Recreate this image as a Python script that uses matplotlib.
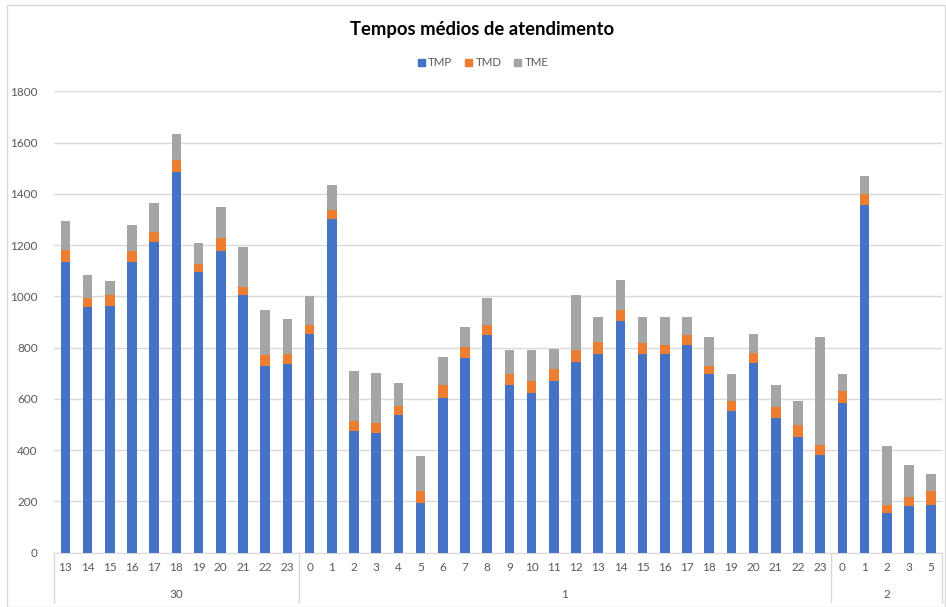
import matplotlib
matplotlib.use("Agg")
import matplotlib.pyplot as plt
import matplotlib.transforms as mtransforms
from matplotlib.patches import Rectangle, Patch
import numpy as np

plt.rcParams['font.family'] = ['Lato', 'DejaVu Sans']

days = ["30", "1", "2"]
hours_30 = [13, 14, 15, 16, 17, 18, 19, 20, 21, 22, 23]
hours_1 = list(range(0, 24))
hours_2 = [0, 1, 2, 3, 5]

tmp = [1135, 958, 964, 1135, 1213, 1484, 1094, 1177, 1005, 730, 735,
       854, 1302, 473, 468, 536, 192, 603, 759, 848, 655, 624, 671, 744, 776,
       905, 777, 777, 812, 699, 552, 740, 526, 453, 380,
       583, 1358, 156, 182, 187]
tmd = [46, 37, 40, 41, 37, 47, 31, 51, 30, 40, 40,
       36, 36, 41, 37, 36, 47, 52, 42, 41, 42, 47, 47, 47, 46,
       42, 40, 35, 36, 30, 41, 41, 41, 45, 40,
       47, 43, 31, 37, 52]
tme = [114, 87, 57, 104, 113, 104, 82, 119, 156, 177, 135,
       113, 98, 193, 197, 89, 139, 110, 78, 104, 94, 120, 78, 213, 99,
       115, 104, 109, 73, 114, 103, 73, 89, 95, 423,
       67, 67, 229, 124, 68]

hour_labels = [str(h) for h in hours_30 + hours_1 + hours_2]
group_sizes = [len(hours_30), len(hours_1), len(hours_2)]

C_TMP = "#4472C4"
C_TMD = "#ED7D31"
C_TME = "#A5A5A5"
GRID = "#D9D9D9"
TXT = "#595959"

W, H = 946, 607
fig = plt.figure(figsize=(W / 100, H / 100), dpi=100)
fig.patch.set_facecolor("white")

left, right, bottom, top = 54.3, 942.3, 552.7, 91.3
ax = fig.add_axes([left / W, 1 - bottom / H, (right - left) / W, (bottom - top) / H])

x = np.arange(len(tmp))
bw = 0.43
tmp_a = np.array(tmp); tmd_a = np.array(tmd); tme_a = np.array(tme)
ax.bar(x, tmp_a, bw, color=C_TMP, zorder=3)
ax.bar(x, tmd_a, bw, bottom=tmp_a, color=C_TMD, zorder=3)
ax.bar(x, tme_a, bw, bottom=tmp_a + tmd_a, color=C_TME, zorder=3)

ax.set_xlim(-0.5, len(tmp) - 0.5)
ax.set_ylim(0, 1800)
ax.set_yticks(range(0, 1801, 200))
ax.yaxis.grid(True, color=GRID, linewidth=1, zorder=0)
ax.set_axisbelow(True)
for s in ["left", "right", "top"]:
    ax.spines[s].set_visible(False)
ax.spines["bottom"].set_color(GRID)
ax.tick_params(axis="y", length=0, pad=12, labelsize=8.5, labelcolor=TXT)
ax.set_xticks(x)
ax.set_xticklabels(hour_labels)
ax.tick_params(axis="x", length=0, pad=7, labelsize=8.5, labelcolor=TXT)

trans = mtransforms.blended_transform_factory(ax.transData, ax.transAxes)
sep_bottom = -(602 - bottom) / (bottom - top)
lab_y = -(594 - bottom) / (bottom - top)
bounds = np.concatenate([[0], np.cumsum(group_sizes)]) - 0.5
for b in bounds:
    ax.plot([b, b], [0, sep_bottom], color=GRID, linewidth=1, transform=trans, clip_on=False)
for i, d in enumerate(days):
    cx = (bounds[i] + bounds[i + 1]) / 2
    ax.text(cx, lab_y, d, transform=trans, ha="center", va="center", fontsize=8.5, color=TXT)

fig.text(482 / W, 1 - 29 / H, "Tempos médios de atendimento", ha="center", va="center",
         fontsize=13.3, fontweight="bold", color="#000000")

handles = [Patch(color=C_TMP, label="TMP"), Patch(color=C_TMD, label="TMD"), Patch(color=C_TME, label="TME")]
fig.legend(handles=handles, loc="center", bbox_to_anchor=(483 / W, 1 - 63 / H), ncol=3, frameon=False,
           fontsize=8.3, handlelength=0.6, handleheight=0.6, handletextpad=0.3, columnspacing=1.1,
           labelcolor=TXT)

fig.patches.append(Rectangle((7 / W, 0), (W - 8) / W, 1 - 5 / H, transform=fig.transFigure,
                             fill=False, edgecolor=GRID, linewidth=1))

fig.savefig("out.png", dpi=100)
